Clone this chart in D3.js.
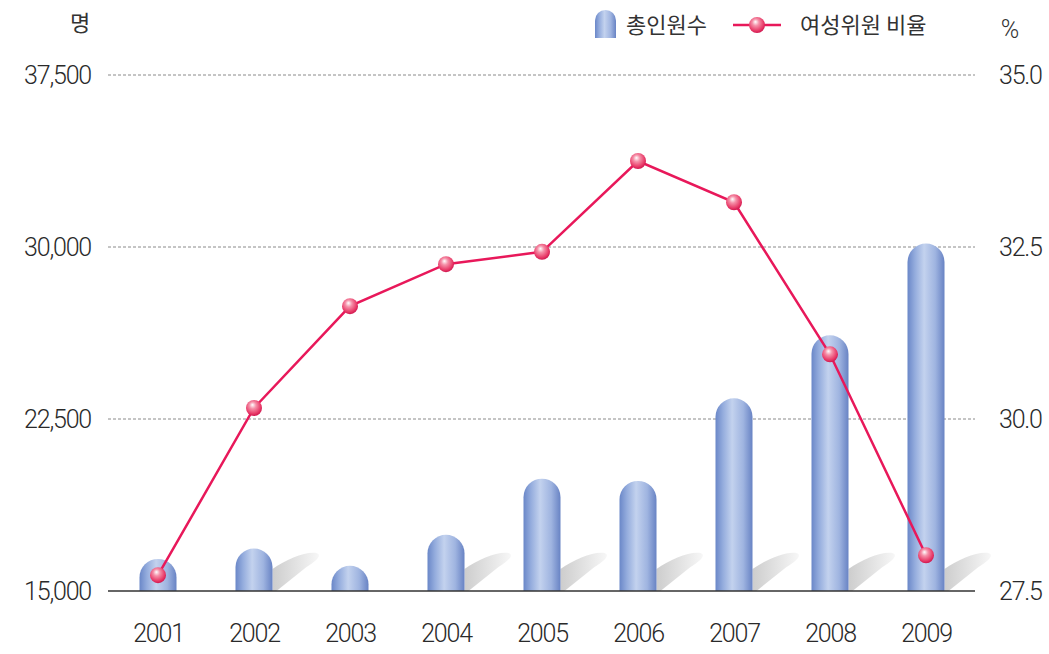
<!DOCTYPE html>
<html>
<head>
<meta charset="utf-8">
<script src="https://cdn.jsdelivr.net/npm/d3@7"></script>
<style>
    body { margin: 0; background: #fff; }
    svg text { fill: #333; }
</style>
</head>
<body>
<div id="chart"></div>
<script>
// chart data
const years = ['2001', '2002', '2003', '2004', '2005', '2006', '2007', '2008', '2009'];
const totalMembers = [16400, 16850, 16100, 17450, 19900, 19800, 23400, 26150, 30150];
const womenRatio = [27.73, 30.16, 31.64, 32.25, 32.43, 33.75, 33.15, 30.94, 28.02];
const leftTicks = [15000, 22500, 30000, 37500];
const rightTicks = [27.5, 30.0, 32.5, 35.0];
const legendLabels = ['총인원수', '여성위원 비율'];

const width = 1049, height = 654;
const numFont = 'Roboto, "Liberation Sans", Arial, sans-serif';
const krFont = '"Noto Sans CJK KR", "Noto Sans", sans-serif';

const svg = d3.select('#chart').append('svg')
    .attr('width', width)
    .attr('height', height);

const defs = svg.append('defs');

// bar gradient (cylinder look)
const barGrad = defs.append('linearGradient').attr('id', 'barGrad')
    .attr('x1', '0%').attr('x2', '100%').attr('y1', '0%').attr('y2', '0%');
barGrad.append('stop').attr('offset', '0%').attr('stop-color', '#6a87c8');
barGrad.append('stop').attr('offset', '20%').attr('stop-color', '#94acdd');
barGrad.append('stop').attr('offset', '45%').attr('stop-color', '#c3d2ee');
barGrad.append('stop').attr('offset', '75%').attr('stop-color', '#9fb4e0');
barGrad.append('stop').attr('offset', '100%').attr('stop-color', '#6883c4');

// shadow gradient
const shadowGrad = defs.append('linearGradient').attr('id', 'shadowGrad')
    .attr('x1', '0%').attr('x2', '100%').attr('y1', '0%').attr('y2', '0%');
shadowGrad.append('stop').attr('offset', '0%').attr('stop-color', '#cdcdcd');
shadowGrad.append('stop').attr('offset', '100%').attr('stop-color', '#f7f7f7');

// sphere marker gradient
const dotGrad = defs.append('radialGradient').attr('id', 'dotGrad')
    .attr('cx', '45%').attr('cy', '40%').attr('r', '60%')
    .attr('fx', '40%').attr('fy', '30%');
dotGrad.append('stop').attr('offset', '0%').attr('stop-color', '#ffffff');
dotGrad.append('stop').attr('offset', '35%').attr('stop-color', '#f590a8');
dotGrad.append('stop').attr('offset', '80%').attr('stop-color', '#e83a68');
dotGrad.append('stop').attr('offset', '100%').attr('stop-color', '#d01850');

// scales
const x = d3.scalePoint().domain(years).range([158, 926]);
const yLeft = d3.scaleLinear().domain([15000, 37500]).range([591, 75]);
const yRight = d3.scaleLinear().domain([27.5, 35.0]).range([591, 75]);
const barW = 37;
const baseY = yLeft(15000);

// gridlines
svg.append('g')
    .selectAll('line')
    .data(leftTicks.slice(1))
    .enter()
    .append('line')
    .attr('x1', 108).attr('x2', 975)
    .attr('y1', d => yLeft(d)).attr('y2', d => yLeft(d))
    .style('stroke', '#8a8a8a')
    .style('stroke-width', 1)
    .style('stroke-dasharray', '3,2');

// shared style for numeric labels
function styleNums(sel) {
    sel.selectAll('text')
        .style('font-family', numFont)
        .style('font-weight', 300)
        .style('font-size', '25px')
        .style('letter-spacing', '-1.2px')
        .style('fill', '#2a2a2a');
}

// left axis
const axisL = svg.append('g')
    .attr('transform', 'translate(91,0)')
    .call(d3.axisLeft(yLeft).tickValues(leftTicks).tickSize(0).tickPadding(0).tickFormat(d3.format(',')));
axisL.select('.domain').remove();
styleNums(axisL);

// right axis
const axisR = svg.append('g')
    .attr('transform', 'translate(999,0)')
    .call(d3.axisRight(yRight).tickValues(rightTicks).tickSize(0).tickPadding(0).tickFormat(d3.format('.1f')));
axisR.select('.domain').remove();
styleNums(axisR);

// bottom axis labels
const axisB = svg.append('g')
    .attr('transform', `translate(0,${baseY})`)
    .call(d3.axisBottom(x).tickSize(0).tickPadding(33));
axisB.select('.domain').remove();
styleNums(axisB);

// unit labels
svg.append('text').attr('x', 80).attr('y', 31).attr('text-anchor', 'middle')
    .style('font-family', krFont).style('font-size', '22px').text('명');
svg.append('text').attr('x', 1010).attr('y', 38).attr('text-anchor', 'middle')
    .style('font-family', numFont).style('font-weight', 300).style('font-size', '25px').text('%');

// bar shape with rounded top
function barPath(cx, top, bottom, w) {
    const r = w / 2;
    const x0 = cx - r, x1 = cx + r;
    return `M ${x0},${bottom} L ${x0},${top + r} A ${r} ${r} 0 0 1 ${x1},${top + r} L ${x1},${bottom} Z`;
}

// shadow shape next to a bar
function shadowPath(x1, bottom) {
    return `M ${x1},${bottom} L ${x1},${bottom - 22}
        C ${x1 + 14},${bottom - 32} ${x1 + 34},${bottom - 40} ${x1 + 44},${bottom - 38}
        C ${x1 + 50},${bottom - 36} ${x1 + 44},${bottom - 30} ${x1 + 34},${bottom - 24}
        L ${x1 + 4},${bottom} Z`;
}

const barData = years.map((y, i) => ({ year: y, value: totalMembers[i] }));

// shadows only for taller bars
svg.append('g')
    .selectAll('path')
    .data(barData.filter(d => baseY - yLeft(d.value) > 36))
    .enter()
    .append('path')
    .attr('d', d => shadowPath(x(d.year) + barW / 2, baseY))
    .style('fill', 'url(#shadowGrad)');

// bars
svg.append('g')
    .selectAll('path')
    .data(barData)
    .enter()
    .append('path')
    .attr('d', d => barPath(x(d.year), yLeft(d.value), baseY, barW))
    .style('fill', 'url(#barGrad)');

// baseline
svg.append('line')
    .attr('x1', 108).attr('x2', 975)
    .attr('y1', baseY).attr('y2', baseY)
    .style('stroke', '#333')
    .style('stroke-width', 1.5);

// ratio line
const lineData = years.map((y, i) => ({ year: y, value: womenRatio[i] }));
svg.append('path')
    .datum(lineData)
    .attr('d', d3.line().x(d => x(d.year)).y(d => yRight(d.value)))
    .style('fill', 'none')
    .style('stroke', '#e8185a')
    .style('stroke-width', 2.5);

svg.append('g')
    .selectAll('circle')
    .data(lineData)
    .enter()
    .append('circle')
    .attr('cx', d => x(d.year))
    .attr('cy', d => yRight(d.value))
    .attr('r', 8)
    .style('fill', 'url(#dotGrad)');

// legend
const legend = svg.append('g');
legend.append('path')
    .attr('d', barPath(605.5, 10, 38, 21))
    .style('fill', 'url(#barGrad)');
legend.append('text').attr('x', 626).attr('y', 33)
    .style('font-family', krFont).style('font-size', '22px').text(legendLabels[0]);
legend.append('line')
    .attr('x1', 733).attr('x2', 781).attr('y1', 25).attr('y2', 25)
    .style('stroke', '#e8185a').style('stroke-width', 2.5);
legend.append('circle')
    .attr('cx', 757).attr('cy', 25).attr('r', 8)
    .style('fill', 'url(#dotGrad)');
legend.append('text').attr('x', 800).attr('y', 33)
    .style('font-family', krFont).style('font-size', '22px').text(legendLabels[1]);
</script>
</body>
</html>
